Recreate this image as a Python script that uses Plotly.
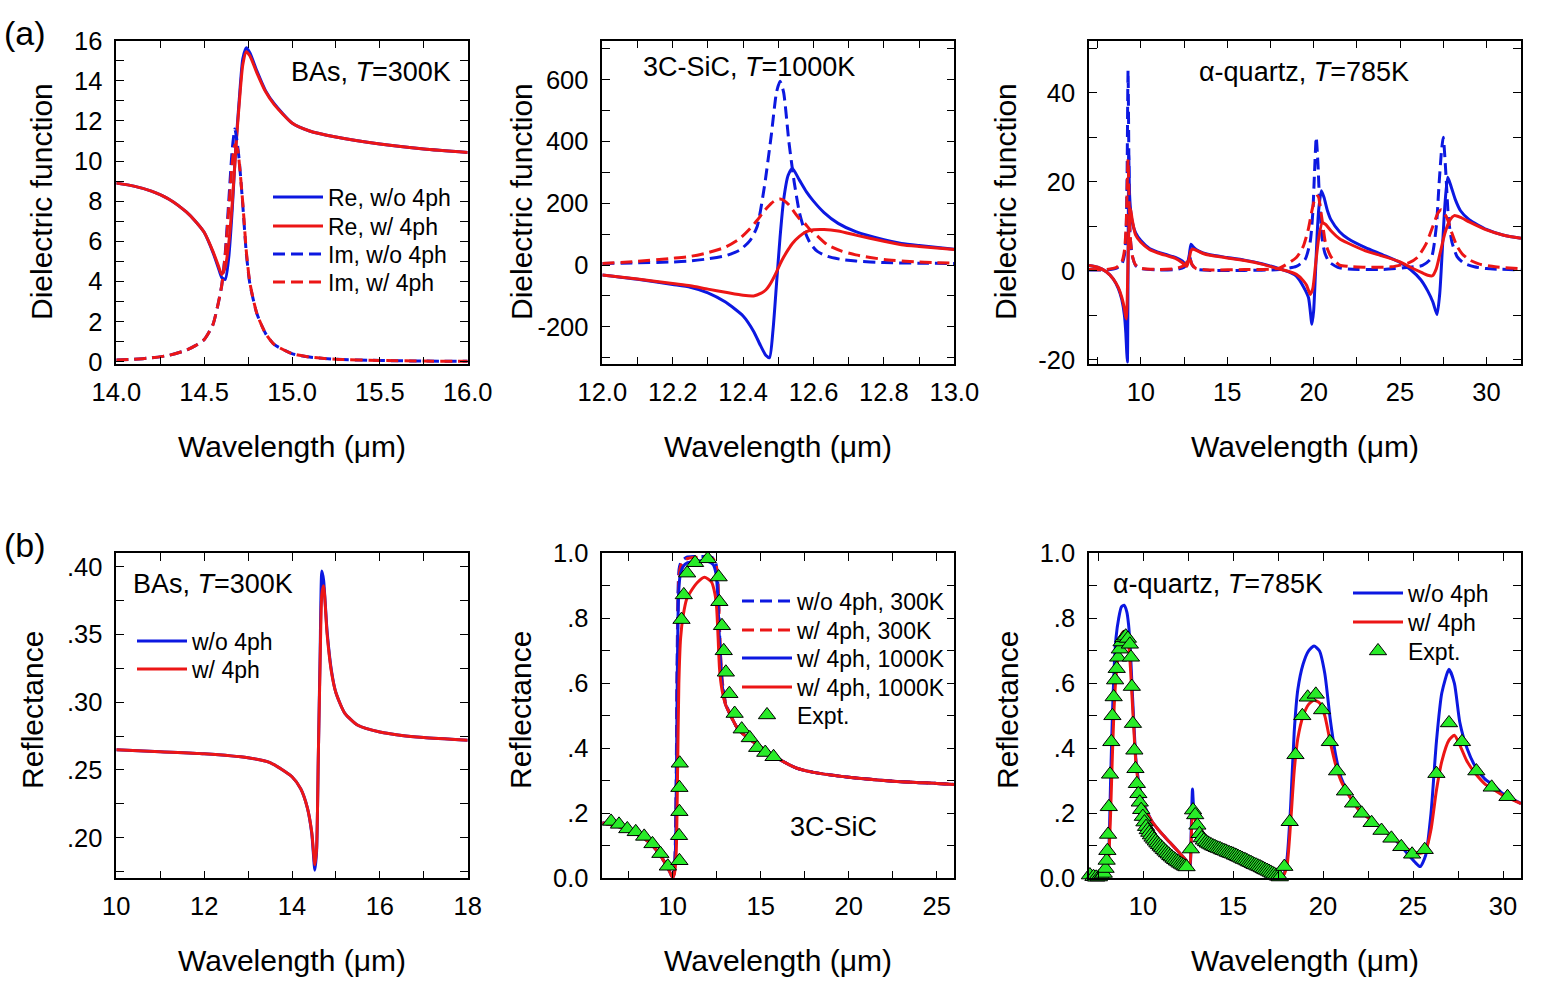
import plotly.graph_objects as go

W, H = 1561, 982
BLUE = "rgb(12,24,225)"
RED = "rgb(236,22,22)"
GREEN = "rgb(40,235,40)"
FONT = "Arial, 'Liberation Sans', sans-serif"
DASH = "12px,6px"
ITEMW = 50

# ---------------- Panel (a1): BAs dielectric function ----------------
bas_re_x = [14.0, 14.1, 14.2, 14.3, 14.4, 14.45, 14.5, 14.55, 14.58, 14.6, 14.62, 14.64, 14.66, 14.68,
            14.70, 14.72, 14.74, 14.76, 14.8, 14.85, 14.9, 15.0, 15.1, 15.25, 15.5, 15.75, 16.0]
bas_re_wo = [8.9, 8.75, 8.5, 8.1, 7.45, 7.0, 6.45, 5.45, 4.7, 4.2, 4.1, 5.2, 7.6, 10.7,
             13.1, 15.1, 15.65, 15.4, 14.5, 13.5, 12.85, 11.9, 11.5, 11.2, 10.85, 10.6, 10.43]
bas_re_w = [8.9, 8.75, 8.5, 8.1, 7.45, 7.0, 6.45, 5.5, 4.8, 4.35, 4.7, 5.9, 7.9, 10.6,
            12.9, 14.8, 15.45, 15.25, 14.4, 13.45, 12.8, 11.9, 11.5, 11.2, 10.85, 10.6, 10.43]
bas_im_x = [14.0, 14.1, 14.2, 14.3, 14.4, 14.45, 14.5, 14.55, 14.58, 14.6, 14.62, 14.64, 14.66, 14.675,
            14.69, 14.70, 14.72, 14.74, 14.76, 14.8, 14.85, 14.9, 15.0, 15.1, 15.25, 15.5, 15.75, 16.0]
bas_im_wo = [0.08, 0.12, 0.19, 0.32, 0.58, 0.8, 1.1, 1.85, 2.9, 3.8, 5.4, 8.0, 10.6, 11.6,
             10.8, 10.0, 7.8, 5.4, 3.9, 2.4, 1.4, 0.85, 0.4, 0.23, 0.12, 0.06, 0.03, 0.02]
bas_im_w = [0.08, 0.12, 0.19, 0.32, 0.58, 0.8, 1.1, 1.85, 2.9, 3.8, 5.3, 7.6, 9.9, 10.8,
            10.6, 9.9, 7.9, 5.5, 3.95, 2.4, 1.4, 0.85, 0.4, 0.23, 0.12, 0.06, 0.03, 0.02]

# ---------------- Panel (a2): 3C-SiC dielectric function ----------------
sic_re_x = [12.0, 12.1, 12.2, 12.25, 12.3, 12.35, 12.4, 12.43, 12.45, 12.465, 12.475, 12.485, 12.495,
            12.505, 12.515, 12.528, 12.54, 12.56, 12.58, 12.6, 12.63, 12.67, 12.72, 12.8, 12.85, 12.9, 13.0]
sic_re_wo = [-32, -46, -63, -72, -90, -120, -165, -215, -262, -293, -300, -210, -60,
             90, 210, 291, 313, 275, 237, 207, 170, 135, 108, 82, 70, 63, 51]
sic_re_w = [-32, -45, -60, -67, -78, -88, -98, -100, -92, -80, -65, -45, -22,
            3, 25, 50, 70, 93, 108, 114, 115, 110, 97, 77, 66, 60, 50]
sic_im_x = [12.0, 12.1, 12.2, 12.25, 12.3, 12.35, 12.39, 12.42, 12.44, 12.46, 12.48, 12.495, 12.505,
            12.515, 12.53, 12.545, 12.56, 12.575, 12.59, 12.61, 12.64, 12.68, 12.72, 12.8, 12.9, 13.0]
sic_im_wo = [5, 7, 10, 13, 20, 30, 48, 80, 125, 250, 420, 560, 595,
             560, 400, 270, 170, 110, 72, 45, 28, 18, 13, 8, 6, 5]
sic_im_w = [5, 12, 22, 28, 40, 58, 85, 118, 145, 175, 200, 212, 214,
            210, 195, 172, 150, 135, 115, 95, 65, 45, 33, 18, 10, 6]

# ---------------- Panel (a3): alpha-quartz dielectric function ----------------
qz_re_wo_x = [7.0, 7.5, 8.0, 8.4, 8.7, 8.9, 9.05, 9.13, 9.18, 9.22, 9.26, 9.3, 9.34, 9.4, 9.5, 9.7, 10.0,
              10.5, 11.0, 11.5, 12.0, 12.4, 12.65, 12.8, 12.9, 13.0, 13.2, 13.6, 14.0, 15.0, 16.0, 17.0,
              18.0, 18.6, 19.0, 19.4, 19.7, 19.9, 20.0, 20.1, 20.2, 20.3, 20.45, 20.6, 20.8, 21.0, 21.5,
              22.0, 23.0, 24.0, 25.0, 25.6, 26.2, 26.6, 26.9, 27.14, 27.3, 27.45, 27.6, 27.76, 27.95,
              28.2, 28.5, 29.0, 30.0, 31.0, 32.0]
qz_re_wo = [1.2, 0.8, -0.2, -1.8, -4.0, -6.5, -10.0, -14.0, -18.0, -20.5, 0.0, 26.0, 18.0, 14.0, 11.0, 8.5, 6.8,
            5.0, 4.2, 3.6, 3.0, 2.2, 1.2, 3.5, 6.0, 5.5, 4.8, 4.0, 3.6, 3.0, 2.4, 1.6,
            0.5, -0.3, -1.2, -3.5, -6.0, -12.0, -9.0, -1.0, 8.0, 14.0, 18.0, 16.5, 13.5, 11.5, 8.8,
            7.2, 5.2, 3.6, 1.9, 0.3, -2.0, -4.5, -7.0, -9.8, -5.0, 5.0, 15.0, 21.0, 19.0,
            16.0, 13.5, 11.5, 9.3, 8.0, 7.3]
qz_re_w_x = [7.0, 7.5, 8.0, 8.4, 8.7, 8.9, 9.05, 9.12, 9.17, 9.22, 9.28, 9.34, 9.4, 9.5, 9.7, 10.0, 10.5,
             11.0, 11.5, 12.0, 12.4, 12.65, 12.8, 12.9, 13.0, 13.2, 13.6, 14.0, 15.0, 16.0, 17.0, 18.0,
             18.6, 19.0, 19.4, 19.6, 19.8, 19.95, 20.1, 20.3, 20.5, 20.7, 21.0, 21.5, 22.0, 23.0, 24.0,
             25.0, 25.6, 26.2, 26.6, 26.88, 27.1, 27.35, 27.6, 27.9, 28.14, 28.5, 29.0, 30.0, 31.0, 32.0]
qz_re_w = [1.2, 0.8, -0.2, -1.8, -3.8, -6.0, -8.5, -10.2, -10.8, -5.0, 6.0, 12.0, 14.0, 11.5, 8.0, 6.4, 4.8,
           4.0, 3.4, 2.8, 1.8, 1.0, 2.8, 4.5, 4.9, 4.6, 3.9, 3.5, 2.9, 2.3, 1.5, 0.4,
           -0.2, -0.8, -2.2, -3.3, -5.3, -4.0, 1.0, 7.5, 10.8, 10.4, 9.0, 7.2, 6.2, 4.5, 3.3,
           2.0, 0.8, -0.3, -1.0, -1.1, 0.5, 4.5, 8.5, 11.5, 12.4, 12.0, 11.0, 9.2, 8.0, 7.3]
qz_im_wo_x = [7.0, 8.0, 8.6, 8.9, 9.05, 9.15, 9.2, 9.26, 9.32, 9.38, 9.5, 9.7, 10.0, 11.0, 12.0, 12.5,
              12.7, 12.82, 12.95, 13.2, 14.0, 16.0, 18.0, 19.0, 19.5, 19.8, 19.95, 20.05, 20.15, 20.25,
              20.35, 20.5, 20.65, 20.9, 21.4, 22.0, 24.0, 25.5, 26.3, 26.8, 27.1, 27.25, 27.4, 27.5,
              27.65, 27.8, 28.0, 28.3, 28.7, 29.3, 30.0, 32.0]
qz_im_wo = [0.2, 0.2, 0.6, 1.5, 3.5, 9.0, 20.0, 45.0, 20.0, 8.0, 3.5, 1.2, 0.5, 0.2, 0.3, 0.8,
            1.8, 3.2, 1.5, 0.4, 0.1, 0.1, 0.3, 1.0, 2.5, 6.5, 13.0, 22.0, 30.0, 24.0,
            15.0, 7.0, 4.0, 2.0, 0.8, 0.4, 0.3, 0.8, 1.2, 2.8, 10.0, 19.0, 27.0, 30.0,
            22.0, 12.0, 6.5, 3.2, 1.7, 0.9, 0.5, 0.2]
qz_im_w_x = [7.0, 8.0, 8.6, 8.9, 9.05, 9.15, 9.21, 9.26, 9.31, 9.38, 9.5, 9.7, 10.0, 11.0, 12.0, 12.5,
             12.7, 12.82, 12.95, 13.2, 14.0, 16.0, 18.0, 19.0, 19.4, 19.7, 19.9, 20.1, 20.25, 20.45,
             20.7, 21.0, 21.5, 22.0, 23.0, 24.5, 25.5, 26.0, 26.5, 26.9, 27.2, 27.4, 27.7, 28.0,
             28.3, 28.6, 29.0, 29.6, 30.5, 32.0]
qz_im_w = [0.3, 0.3, 0.8, 2.0, 4.5, 10.0, 19.0, 25.0, 17.0, 8.0, 3.5, 1.3, 0.6, 0.3, 0.5, 1.2,
           2.2, 3.0, 1.5, 0.5, 0.2, 0.3, 0.6, 3.0, 5.5, 9.5, 13.5, 16.5, 16.8, 12.5,
           6.0, 3.2, 1.3, 1.0, 0.8, 0.9, 1.8, 3.0, 6.0, 10.0, 13.0, 13.7, 12.0, 8.5,
           5.5, 3.8, 2.5, 1.5, 0.9, 0.5]

# ---------------- Panel (b1): BAs reflectance ----------------
bas_r_x = [10, 11, 12, 13, 13.5, 14.0, 14.2, 14.35, 14.45, 14.52, 14.56, 14.6, 14.64, 14.68, 14.72,
           14.8, 14.9, 15.0, 15.2, 15.5, 16, 16.5, 17, 18]
bas_r_wo = [0.265, 0.2635, 0.262, 0.259, 0.2555, 0.245, 0.236, 0.222, 0.203, 0.176, 0.19, 0.262, 0.335, 0.397, 0.39,
            0.352, 0.323, 0.307, 0.292, 0.283, 0.278, 0.2755, 0.274, 0.272]
bas_r_w = [0.265, 0.2635, 0.262, 0.259, 0.2555, 0.245, 0.236, 0.222, 0.204, 0.180, 0.192, 0.262, 0.329, 0.380, 0.386,
           0.350, 0.322, 0.307, 0.292, 0.283, 0.278, 0.2755, 0.274, 0.272]

# ---------------- Panel (b2): 3C-SiC reflectance ----------------
sic_r_x = [6.0, 6.5, 7.0, 7.5, 8.0, 8.5, 9.0, 9.4, 9.7, 9.9, 10.0, 10.1, 10.18, 10.24, 10.3, 10.36, 10.45,
           10.6, 10.8, 11.2, 11.6, 12.0, 12.3, 12.45, 12.55, 12.62, 12.7, 12.8, 13.0, 13.3, 13.7, 14.2,
           15.0, 16.0, 17.0, 18.0, 20.0, 22.5, 25.0, 26.0]
sic_r_wo_300 = [0.17, 0.165, 0.158, 0.148, 0.135, 0.118, 0.092, 0.062, 0.034, 0.012, 0.003, 0.03, 0.2, 0.6, 0.88,
                0.95, 0.97, 0.98, 0.988, 0.99, 0.99, 0.99, 0.985, 0.97, 0.92, 0.83, 0.7, 0.61, 0.54, 0.5, 0.46,
                0.435, 0.404, 0.368, 0.34, 0.326, 0.311, 0.299, 0.292, 0.289]
sic_r_w_300 = [0.17, 0.165, 0.158, 0.148, 0.135, 0.118, 0.092, 0.062, 0.034, 0.012, 0.003, 0.02, 0.15, 0.5, 0.82,
               0.93, 0.96, 0.975, 0.983, 0.987, 0.988, 0.988, 0.983, 0.97, 0.93, 0.84, 0.71, 0.615, 0.54, 0.5,
               0.46, 0.435, 0.404, 0.368, 0.34, 0.326, 0.311, 0.299, 0.292, 0.289]
sic_r_1000_b = [0.17, 0.165, 0.158, 0.148, 0.135, 0.118, 0.092, 0.062, 0.034, 0.012, 0.003, 0.02, 0.15, 0.5, 0.8,
                0.9, 0.94, 0.96, 0.97, 0.975, 0.977, 0.975, 0.965, 0.94, 0.88, 0.78, 0.68, 0.6, 0.535, 0.5, 0.46,
                0.435, 0.404, 0.368, 0.34, 0.326, 0.311, 0.299, 0.292, 0.289]
sic_r_1000_x = [6.0, 6.5, 7.0, 7.5, 8.0, 8.5, 9.0, 9.4, 9.7, 9.9, 10.0, 10.1, 10.2, 10.28, 10.35, 10.45, 10.6,
                10.8, 11.0, 11.4, 11.8, 12.2, 12.4, 12.5, 12.58, 12.66, 12.8, 13.0, 13.3, 13.7, 14.2, 15.0,
                16.0, 17.0, 18.0, 20.0, 22.5, 25.0, 26.0]
sic_r_1000_r = [0.17, 0.165, 0.158, 0.148, 0.135, 0.118, 0.092, 0.062, 0.034, 0.012, 0.003, 0.015, 0.08, 0.34,
                0.6, 0.74, 0.81, 0.86, 0.88, 0.91, 0.926, 0.912, 0.875, 0.83, 0.74, 0.645, 0.58, 0.535, 0.5,
                0.46, 0.435, 0.404, 0.368, 0.34, 0.326, 0.311, 0.299, 0.292, 0.289]
sic_exp_x = [5.93, 6.5, 6.95, 7.42, 7.9, 8.38, 8.85, 9.3, 9.72, 10.38, 10.36, 10.38, 10.38, 10.4, 10.5, 10.63,
             10.82, 11.27, 11.99, 12.61, 12.65, 12.8, 12.9, 13.02, 13.22, 13.52, 13.92, 14.38, 14.8, 15.26,
             15.73]
sic_exp_y = [0.173, 0.175, 0.166, 0.152, 0.143, 0.129, 0.106, 0.076, 0.037, 0.054, 0.131, 0.205, 0.279, 0.354,
             0.796, 0.872, 0.939, 0.971, 0.983, 0.927, 0.851, 0.777, 0.70, 0.634, 0.568, 0.507, 0.459, 0.432,
             0.402, 0.387, 0.374]

# ---------------- Panel (b3): alpha-quartz reflectance ----------------
qz_r_wo_x = [7.0, 7.5, 7.8, 8.0, 8.1, 8.2, 8.3, 8.4, 8.5, 8.65, 8.8, 8.95, 9.1, 9.2, 9.3, 9.4, 9.5, 9.6,
             9.75, 10.0, 10.5, 11.0, 11.5, 12.0, 12.4, 12.6, 12.68, 12.75, 12.82, 12.9, 13.1, 13.4, 14.0,
             15.0, 16.0, 17.0, 17.5, 17.8, 18.0, 18.2, 18.4, 18.6, 18.9, 19.2, 19.5, 19.8, 20.1, 20.4,
             20.7, 21.0, 21.5, 22.0, 23.0, 24.0, 24.7, 25.1, 25.4, 25.7, 26.0, 26.3, 26.6, 27.0, 27.3,
             27.6, 28.0, 28.5, 29.0, 29.5, 30.0, 31.0]
qz_r_wo = [0.01, 0.005, 0.01, 0.04, 0.09, 0.3, 0.5, 0.65, 0.74, 0.8, 0.835, 0.84, 0.82, 0.78, 0.7, 0.58, 0.47,
           0.37, 0.3, 0.235, 0.175, 0.14, 0.11, 0.08, 0.055, 0.03, 0.15, 0.275, 0.21, 0.19, 0.16, 0.135,
           0.105, 0.075, 0.05, 0.025, 0.01, 0.01, 0.06, 0.22, 0.45, 0.58, 0.66, 0.7, 0.715, 0.7, 0.63,
           0.49, 0.38, 0.31, 0.25, 0.21, 0.165, 0.12, 0.075, 0.05, 0.036, 0.07, 0.2, 0.42, 0.57, 0.643,
           0.6, 0.48, 0.4, 0.34, 0.305, 0.285, 0.26, 0.23]
qz_r_w_x = [7.0, 7.5, 7.8, 8.0, 8.1, 8.2, 8.3, 8.4, 8.5, 8.65, 8.8, 8.95, 9.1, 9.2, 9.3, 9.4, 9.5, 9.6,
            9.75, 10.0, 10.5, 11.0, 11.5, 12.0, 12.4, 12.6, 12.68, 12.75, 12.82, 12.9, 13.1, 13.4, 14.0,
            15.0, 16.0, 17.0, 17.5, 17.8, 18.0, 18.2, 18.4, 18.6, 18.9, 19.2, 19.5, 19.8, 20.1, 20.4,
            20.7, 21.0, 21.5, 22.0, 23.0, 24.0, 24.7, 25.1, 25.4, 25.7, 26.0, 26.3, 26.6, 27.0, 27.3,
            27.6, 28.0, 28.5, 29.0, 29.5, 30.0, 31.0]
qz_r_w = [0.01, 0.005, 0.01, 0.03, 0.07, 0.2, 0.38, 0.53, 0.62, 0.7, 0.75, 0.76, 0.745, 0.72, 0.65, 0.55, 0.45,
          0.36, 0.29, 0.23, 0.175, 0.14, 0.11, 0.08, 0.055, 0.035, 0.12, 0.19, 0.19, 0.18, 0.16, 0.135,
          0.105, 0.075, 0.05, 0.025, 0.01, 0.01, 0.04, 0.17, 0.33, 0.43, 0.5, 0.535, 0.548, 0.54, 0.5,
          0.42, 0.35, 0.3, 0.25, 0.21, 0.165, 0.12, 0.09, 0.08, 0.077, 0.085, 0.15, 0.27, 0.36, 0.425,
          0.44, 0.41, 0.36, 0.32, 0.29, 0.272, 0.255, 0.23]
qz_exp_x = [7.05, 7.25, 7.4, 7.55, 7.7, 7.82, 7.92, 7.98, 8.02, 8.06, 8.1, 8.17, 8.24, 8.3, 8.37, 8.45,
            8.54, 8.62, 8.71, 8.81, 8.92, 9.04, 9.16, 9.27, 9.33, 9.38, 9.44, 9.52, 9.58, 9.66, 9.74,
            9.82, 9.9, 9.99, 10.08, 10.17, 10.26, 10.35, 10.44, 10.53, 10.62, 10.71, 10.8, 10.89, 10.98,
            11.07, 11.16, 11.25, 11.34, 11.43, 11.52, 11.61, 11.7, 11.79, 11.88, 11.97, 12.06, 12.15,
            12.24, 12.33, 12.42, 12.66, 12.78, 12.9, 13.02, 13.14, 13.26, 13.38, 13.5, 13.6, 13.7, 13.8,
            13.9, 14.0, 14.1, 14.2, 14.3, 14.4, 14.5, 14.6, 14.7, 14.8, 14.9, 15.0, 15.1, 15.2, 15.3,
            15.4, 15.5, 15.6, 15.7, 15.8, 15.9, 16.0, 16.1, 16.2, 16.3, 16.4, 16.5, 16.6, 16.7, 16.8,
            16.9, 17.0, 17.1, 17.2, 17.3, 17.4, 17.5, 17.6, 17.85, 18.15, 18.47, 18.85, 19.15, 19.6,
            19.95, 20.38, 20.78, 21.22, 21.67, 22.15, 22.7, 23.25, 23.8, 24.35, 24.95, 25.65, 26.3,
            27.0, 27.72, 28.52, 29.37, 30.25]
qz_exp_y = [0.01, 0.005, 0.003, 0.004, 0.008, 0.015, 0.03, 0.055, 0.085, 0.135, 0.22, 0.32, 0.42, 0.5,
            0.558, 0.61, 0.645, 0.68, 0.705, 0.727, 0.74, 0.745, 0.738, 0.72, 0.68, 0.59, 0.476, 0.394,
            0.337, 0.291, 0.26, 0.234, 0.211, 0.19, 0.173, 0.159, 0.149, 0.141, 0.133, 0.126, 0.12,
            0.114, 0.108, 0.103, 0.098, 0.093, 0.088, 0.083, 0.078, 0.074, 0.069, 0.065, 0.061, 0.057,
            0.053, 0.05, 0.046, 0.043, 0.04, 0.037, 0.035, 0.09, 0.21, 0.195, 0.163, 0.137, 0.124, 0.117,
            0.112, 0.108, 0.105, 0.102, 0.099, 0.097, 0.094, 0.092, 0.09, 0.087, 0.085, 0.083, 0.08,
            0.078, 0.076, 0.074, 0.071, 0.069, 0.066, 0.064, 0.061, 0.058, 0.056, 0.053, 0.05, 0.048,
            0.045, 0.042, 0.04, 0.037, 0.035, 0.032, 0.029, 0.026, 0.024, 0.021, 0.018, 0.015, 0.012,
            0.009, 0.006, 0.004, 0.036, 0.174, 0.38, 0.50, 0.557, 0.566, 0.518, 0.42, 0.33, 0.268,
            0.231, 0.2, 0.171, 0.147, 0.123, 0.097, 0.074, 0.088, 0.322, 0.478, 0.42, 0.33, 0.28, 0.251]

# ---------------- tick definitions ----------------
def ticks(vals, labels):
    return dict(tickmode="array", tickvals=vals, ticktext=labels)

p1_xt = ticks([14.0 + 0.25 * i for i in range(9)], ["14.0", "", "14.5", "", "15.0", "", "15.5", "", "16.0"])
p1_yt = ticks(list(range(0, 17)), [str(v) if v % 2 == 0 else "" for v in range(0, 17)])
p2_xt = ticks([round(12.0 + 0.1 * i, 1) for i in range(11)],
              ["12.0", "", "12.2", "", "12.4", "", "12.6", "", "12.8", "", "13.0"])
p2_yt = ticks([-300, -200, -100, 0, 100, 200, 300, 400, 500, 600, 700],
              ["", "-200", "", "0", "", "200", "", "400", "", "600", ""])
p3_xt = ticks([7.5, 10, 12.5, 15, 17.5, 20, 22.5, 25, 27.5, 30], ["", "10", "", "15", "", "20", "", "25", "", "30"])
p3_yt = ticks([-20, -10, 0, 10, 20, 30, 40, 50], ["-20", "", "0", "", "20", "", "40", ""])
p4_xt = ticks(list(range(10, 19)), ["10", "", "12", "", "14", "", "16", "", "18"])
p4_yt = ticks([0.175, 0.2, 0.225, 0.25, 0.275, 0.3, 0.325, 0.35, 0.375, 0.4],
              ["", ".20", "", ".25", "", ".30", "", ".35", "", ".40"])
p5_xt = ticks([7.5, 10, 12.5, 15, 17.5, 20, 22.5, 25], ["", "10", "", "15", "", "20", "", "25"])
refl_yt = ticks([0, 0.1, 0.2, 0.3, 0.4, 0.5, 0.6, 0.7, 0.8, 0.9, 1.0],
                ["0.0", "", ".2", "", ".4", "", ".6", "", ".8", "", "1.0"])
p6_xt = ticks([7.5, 10, 12.5, 15, 17.5, 20, 22.5, 25, 27.5, 30], ["", "10", "", "15", "", "20", "", "25", "", "30"])

# ---------------- layout geometry (pixels) ----------------
cols = [(116.3, 467.7), (602.3, 954.3), (1089.0, 1521.0)]
rows = [(40.7, 364.3), (553.3, 878.3)]


def px(X):
    return X / W


def py(Y):
    return 1 - Y / H


def xdom(c):
    return [px(cols[c][0]), px(cols[c][1])]


def ydom(r):
    return [py(rows[r][1]), py(rows[r][0])]


def axis(domain, anchor, rng, tk, is_x):
    d = dict(domain=domain, anchor=anchor, range=rng, showgrid=False, zeroline=False,
             showline=True, linecolor="black", linewidth=1.5, mirror="allticks",
             ticks="inside", ticklen=8, tickwidth=1.3, tickcolor="black", automargin=False,
             tickfont=dict(family=FONT, size=25.5, color="black"),
             ticklabelstandoff=4 if is_x else 7)
    d.update(tk)
    return d


fig = go.Figure()
legends = {}


def new_legend(text_x, row_y):
    key = "legend" if not legends else "legend%d" % (len(legends) + 1)
    legends[key] = dict(x=px(text_x - ITEMW - 12), y=py(row_y), xanchor="left", yanchor="middle",
                        bgcolor="rgba(0,0,0,0)", borderwidth=0, itemwidth=ITEMW,
                        font=dict(family=FONT, size=23, color="black"))
    return key


def line(x, y, color, dash, xa, ya, name=None, pos=None):
    lg = new_legend(*pos) if pos else None
    fig.add_trace(go.Scatter(x=x, y=y, mode="lines", xaxis=xa, yaxis=ya,
                             line=dict(color=color, width=3, dash=dash, shape="spline", smoothing=0.6),
                             name=name, showlegend=lg is not None, legend=lg or "legend"))


def tri(x, y, xa, ya, pos):
    lg = new_legend(*pos)
    fig.add_trace(go.Scatter(x=x, y=y, mode="markers", xaxis=xa, yaxis=ya, name="Expt.",
                             marker=dict(symbol="triangle-up", size=15, color=GREEN,
                                         line=dict(color="black", width=1)),
                             cliponaxis=False, legend=lg))


# panel a1
line(bas_re_x, bas_re_wo, BLUE, "solid", "x", "y", "Re, w/o 4ph", (330, 197))
line(bas_re_x, bas_re_w, RED, "solid", "x", "y", "Re, w/ 4ph", (330, 226))
line(bas_im_x, bas_im_wo, BLUE, DASH, "x", "y", "Im, w/o 4ph", (330, 254))
line(bas_im_x, bas_im_w, RED, DASH, "x", "y", "Im, w/ 4ph", (330, 282))
# panel a2
line(sic_im_x, sic_im_wo, BLUE, DASH, "x2", "y2")
line(sic_re_x, sic_re_wo, BLUE, "solid", "x2", "y2")
line(sic_im_x, sic_im_w, RED, DASH, "x2", "y2")
line(sic_re_x, sic_re_w, RED, "solid", "x2", "y2")
# panel a3
line(qz_im_wo_x, qz_im_wo, BLUE, DASH, "x3", "y3")
line(qz_re_wo_x, qz_re_wo, BLUE, "solid", "x3", "y3")
line(qz_im_w_x, qz_im_w, RED, DASH, "x3", "y3")
line(qz_re_w_x, qz_re_w, RED, "solid", "x3", "y3")
# panel b1
line(bas_r_x, bas_r_wo, BLUE, "solid", "x4", "y4", "w/o 4ph", (194, 641))
line(bas_r_x, bas_r_w, RED, "solid", "x4", "y4", "w/ 4ph", (194, 669))
# panel b2
line(sic_r_x, sic_r_wo_300, BLUE, DASH, "x5", "y5", "w/o 4ph, 300K", (799, 601))
line(sic_r_x, sic_r_w_300, RED, DASH, "x5", "y5", "w/ 4ph, 300K", (799, 630))
line(sic_r_x, sic_r_1000_b, BLUE, "solid", "x5", "y5", "w/ 4ph, 1000K", (799, 658))
line(sic_r_1000_x, sic_r_1000_r, RED, "solid", "x5", "y5", "w/ 4ph, 1000K", (799, 687))
tri(sic_exp_x, sic_exp_y, "x5", "y5", (799, 715))
# panel b3
line(qz_r_wo_x, qz_r_wo, BLUE, "solid", "x6", "y6", "w/o 4ph", (1410, 593))
line(qz_r_w_x, qz_r_w, RED, "solid", "x6", "y6", "w/ 4ph", (1410, 622))
tri(qz_exp_x, qz_exp_y, "x6", "y6", (1410, 651))


def ann(text, X, Y, size=27, xanchor="left", angle=0):
    return dict(text=text, x=px(X), y=py(Y), xref="paper", yref="paper", showarrow=False,
                xanchor=xanchor, yanchor="middle", textangle=angle,
                font=dict(family=FONT, size=size, color="black"))


annotations = [
    ann("(a)", 2, 33, 34), ann("(b)", 2, 545, 34),
    ann("BAs, <i>T</i>=300K", 453, 72, 27, "right"),
    ann("3C-SiC, <i>T</i>=1000K", 641, 67, 27),
    ann("α-quartz, <i>T</i>=785K", 1197, 72, 27),
    ann("BAs, <i>T</i>=300K", 131, 584, 27),
    ann("3C-SiC", 788, 827, 27),
    ann("α-quartz, <i>T</i>=785K", 1111, 584, 27),
]
for (cx, cy) in [(292, 446), (778, 446), (1305, 446), (292, 960), (778, 960), (1305, 960)]:
    annotations.append(ann("Wavelength (μm)", cx, cy, 30, "center"))
for (cx, cy, t) in [(41, 202, "Dielectric function"), (521, 202, "Dielectric function"),
                    (1005, 202, "Dielectric function"), (32, 710, "Reflectance"),
                    (520, 710, "Reflectance"), (1007, 710, "Reflectance")]:
    annotations.append(ann(t, cx, cy, 30, "center", -90))

fig.update_layout(
    template="none",
    width=W, height=H, margin=dict(l=0, r=0, t=0, b=0, pad=0), autosize=False,
    paper_bgcolor="white", plot_bgcolor="white",
    font=dict(family=FONT, color="black"),
    xaxis=axis(xdom(0), "y", [14, 16], p1_xt, True),
    yaxis=axis(ydom(0), "x", [-0.13, 16.0], p1_yt, False),
    xaxis2=axis(xdom(1), "y2", [12, 13], p2_xt, True),
    yaxis2=axis(ydom(0), "x2", [-321.5, 726.6], p2_yt, False),
    xaxis3=axis(xdom(2), "y3", [7, 32], p3_xt, True),
    yaxis3=axis(ydom(0), "x3", [-21.0, 51.7], p3_yt, False),
    xaxis4=axis(xdom(0), "y4", [10, 18], p4_xt, True),
    yaxis4=axis(ydom(1), "x4", [0.170, 0.410], p4_yt, False),
    xaxis5=axis(xdom(1), "y5", [6, 26], p5_xt, True),
    yaxis5=axis(ydom(1), "x5", [0, 1], refl_yt, False),
    xaxis6=axis(xdom(2), "y6", [7, 31], p6_xt, True),
    yaxis6=axis(ydom(1), "x6", [0, 1], refl_yt, False),
    annotations=annotations,
    **legends,
)

fig.write_html("out.html")
